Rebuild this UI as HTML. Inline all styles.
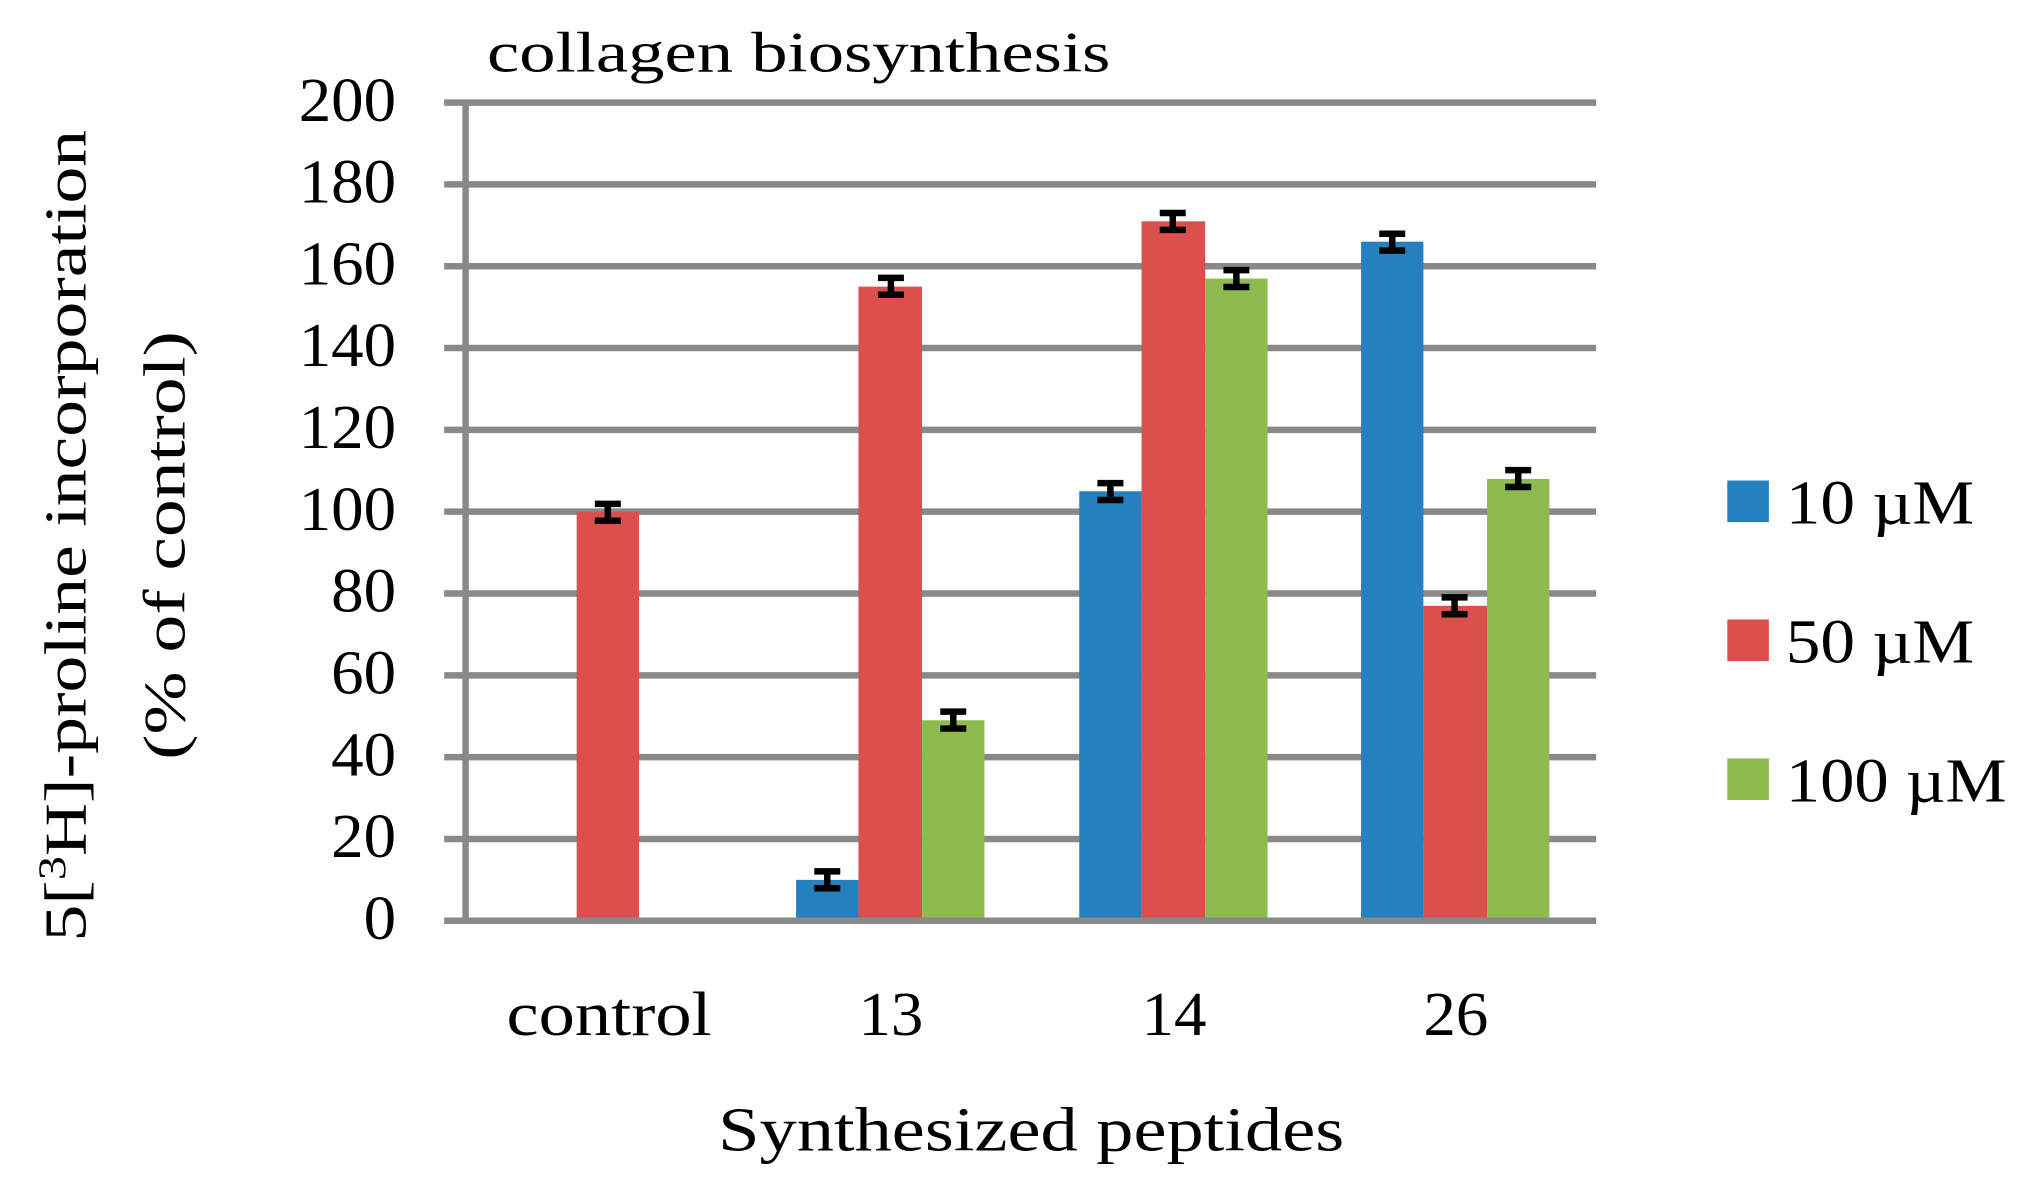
<!DOCTYPE html>
<html><head><meta charset="utf-8"><style>html,body{margin:0;padding:0;background:#fff;overflow:hidden}svg{display:block}</style></head>
<body>
<svg width="2039" height="1187" viewBox="0 0 1570 914" preserveAspectRatio="none" xmlns="http://www.w3.org/2000/svg" font-family="Liberation Serif, serif">
<g stroke="#898989" stroke-width="5">
<line x1="342" x2="1229" y1="79" y2="79"/>
<line x1="342" x2="1229" y1="142" y2="142"/>
<line x1="342" x2="1229" y1="205" y2="205"/>
<line x1="342" x2="1229" y1="268" y2="268"/>
<line x1="342" x2="1229" y1="331" y2="331"/>
<line x1="342" x2="1229" y1="394" y2="394"/>
<line x1="342" x2="1229" y1="457" y2="457"/>
<line x1="342" x2="1229" y1="520" y2="520"/>
<line x1="342" x2="1229" y1="583" y2="583"/>
<line x1="342" x2="1229" y1="646" y2="646"/>
<line x1="358.5" x2="358.5" y1="79" y2="709"/>
</g>
<g>
<rect x="444" y="394" width="48" height="315" fill="#dd4f4c"/>
<rect x="613" y="677.5" width="48" height="31.5" fill="#2580c0"/>
<rect x="661" y="220.7" width="49" height="488.3" fill="#dd4f4c"/>
<rect x="710" y="554.6" width="48" height="154.4" fill="#8dbb4e"/>
<rect x="831" y="378.3" width="48" height="330.7" fill="#2580c0"/>
<rect x="879" y="170.4" width="49" height="538.6" fill="#dd4f4c"/>
<rect x="928" y="214.5" width="48" height="494.5" fill="#8dbb4e"/>
<rect x="1048" y="186.1" width="48" height="522.9" fill="#2580c0"/>
<rect x="1096" y="466.5" width="49" height="242.5" fill="#dd4f4c"/>
<rect x="1145" y="368.8" width="48" height="340.2" fill="#8dbb4e"/>
</g>
<line x1="342" x2="1229" y1="709" y2="709" stroke="#898989" stroke-width="5"/>
<g stroke="#000" stroke-width="5" fill="none">
<path d="M458 388h20M458 401h20M468 388v13"/>
<path d="M627 671h20M627 684h20M637 671v13"/>
<path d="M676 214h20M676 227h20M686 214v13"/>
<path d="M724 548h20M724 561h20M734 548v13"/>
<path d="M845 372h20M845 385h20M855 372v13"/>
<path d="M893 164h20M893 177h20M903 164v13"/>
<path d="M942 208h20M942 221h20M952 208v13"/>
<path d="M1062 180h20M1062 193h20M1072 180v13"/>
<path d="M1110 460h20M1110 473h20M1120 460v13"/>
<path d="M1159 362h20M1159 375h20M1169 362v13"/>
</g>
<g font-size="48" text-anchor="end" fill="#000">
<text x="305" y="93" textLength="75" lengthAdjust="spacingAndGlyphs">200</text><text x="305" y="156" textLength="75" lengthAdjust="spacingAndGlyphs">180</text><text x="305" y="219" textLength="75" lengthAdjust="spacingAndGlyphs">160</text>
<text x="305" y="282" textLength="75" lengthAdjust="spacingAndGlyphs">140</text><text x="305" y="345" textLength="75" lengthAdjust="spacingAndGlyphs">120</text><text x="305" y="408" textLength="75" lengthAdjust="spacingAndGlyphs">100</text>
<text x="305" y="471" textLength="50" lengthAdjust="spacingAndGlyphs">80</text><text x="305" y="534" textLength="50" lengthAdjust="spacingAndGlyphs">60</text><text x="305" y="597" textLength="50" lengthAdjust="spacingAndGlyphs">40</text>
<text x="305" y="660" textLength="50" lengthAdjust="spacingAndGlyphs">20</text><text x="305" y="723" textLength="25" lengthAdjust="spacingAndGlyphs">0</text>
</g>
<text x="375" y="55" font-size="44" textLength="480" lengthAdjust="spacingAndGlyphs">collagen biosynthesis</text>
<g font-size="48">
<text x="390" y="797" textLength="158" lengthAdjust="spacingAndGlyphs">control</text><text x="661" y="797" textLength="50" lengthAdjust="spacingAndGlyphs">13</text>
<text x="879" y="797" textLength="50" lengthAdjust="spacingAndGlyphs">14</text><text x="1096" y="797" textLength="50" lengthAdjust="spacingAndGlyphs">26</text>
<text x="553" y="886" textLength="482" lengthAdjust="spacingAndGlyphs">Synthesized peptides</text>
</g>
<g font-size="46">
<text transform="translate(66,725) rotate(-90)" textLength="625" lengthAdjust="spacingAndGlyphs">5[<tspan font-size="30" dy="-16">3</tspan><tspan dy="16">H]-proline incorporation</tspan></text>
<text transform="translate(142,585) rotate(-90)" textLength="330" lengthAdjust="spacingAndGlyphs">(% of control)</text>
</g>
<rect x="1330" y="370" width="32" height="32" fill="#2580c0"/>
<rect x="1330" y="477" width="32" height="32" fill="#dd4f4c"/>
<rect x="1330" y="584" width="32" height="32" fill="#8dbb4e"/>
<g font-size="48">
<text x="1375" y="403" textLength="145" lengthAdjust="spacingAndGlyphs">10 µM</text><text x="1375" y="510" textLength="145" lengthAdjust="spacingAndGlyphs">50 µM</text><text x="1375" y="617" textLength="170" lengthAdjust="spacingAndGlyphs">100 µM</text>
</g>
</svg>
</body></html>
